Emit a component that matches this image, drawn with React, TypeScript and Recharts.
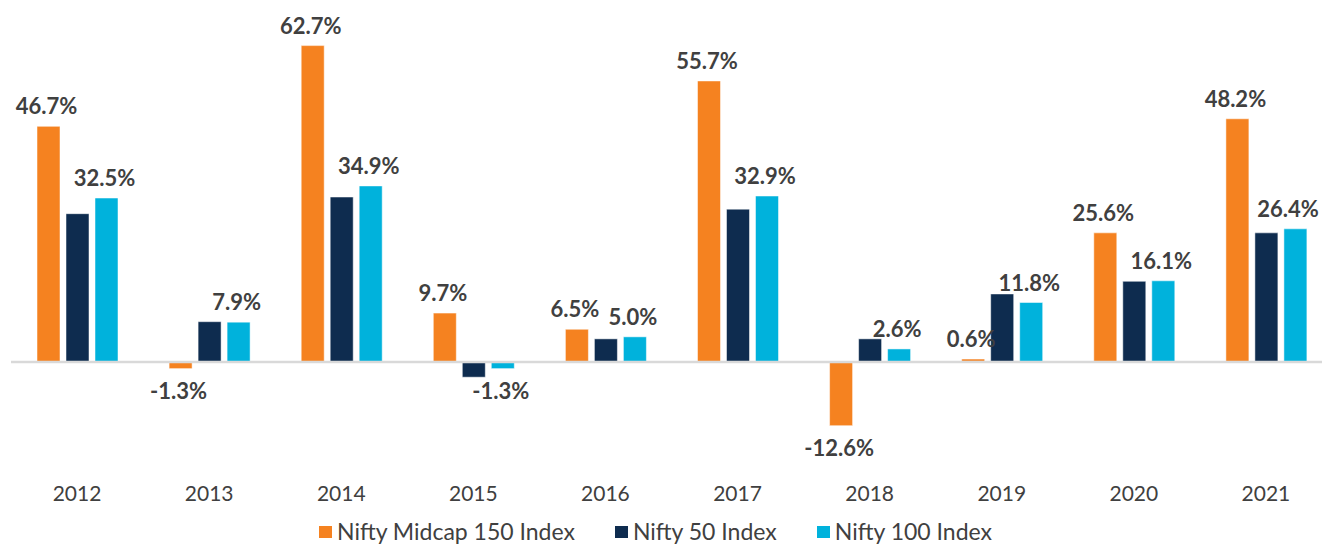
import { Bar, BarChart, LabelList, Legend, ReferenceLine, XAxis, YAxis } from "recharts";

const years = ["2012", "2013", "2014", "2015", "2016", "2017", "2018", "2019", "2020", "2021"];
const midcap150 = [46.7, -1.3, 62.7, 9.7, 6.5, 55.7, -12.6, 0.6, 25.6, 48.2];
const nifty50 = [29.4, 8.0, 32.7, -3.0, 4.6, 30.3, 4.6, 13.5, 16.0, 25.6];
const nifty100 = [32.5, 7.9, 34.9, -1.3, 5.0, 32.9, 2.6, 11.8, 16.1, 26.4];

const seriesNames = ["Nifty Midcap 150 Index", "Nifty 50 Index", "Nifty 100 Index"];
const seriesColors = ["#f58220", "#0e2c4f", "#00b2dc"];

const data = years.map((year, i) => ({
  year,
  midcap: midcap150[i],
  n50: nifty50[i],
  n100: nifty100[i],
}));

const TEXT = "#404040";
const VISIBLE_WIDTH = 1322;

function renderValue(props: any) {
  const vb = props.viewBox ?? props;
  const x = Number(vb.x);
  const y = Number(vb.y);
  const w = Number(vb.width);
  const h = Number(vb.height);
  const value = Number(props.value);
  const top = Math.min(y, y + h);
  const bottom = Math.max(y, y + h);
  const ty = value >= 0 ? top - 12 : bottom + 30;
  // keep the label inside the visible frame
  const cx = Math.min(x + w / 2 - 2, VISIBLE_WIDTH - 34);
  return (
    <text x={cx} y={ty} textAnchor="middle" fill={TEXT} fontFamily="Lato" fontWeight={700} fontSize={22}>
      {value.toFixed(1)}%
    </text>
  );
}

function renderLegend() {
  return (
    <div
      style={{
        height: 30,
        display: "flex",
        alignItems: "flex-end",
        paddingLeft: 308,
        fontFamily: "Lato",
        fontSize: 23,
        color: TEXT,
        whiteSpace: "nowrap",
        transform: "translateY(1px)",
      }}
    >
      {seriesNames.map((name, i) => (
        <div key={name} style={{ display: "flex", alignItems: "center", marginRight: 40, lineHeight: "27px" }}>
          <span style={{ width: 13, height: 12, background: seriesColors[i], marginRight: 5, display: "inline-block" }} />
          <span>{name}</span>
        </div>
      ))}
    </div>
  );
}

export default function App() {
  return (
    <div style={{ width: VISIBLE_WIDTH, height: 544, overflow: "hidden", background: "#fff" }}>
      <style>{"body{margin:0}"}</style>
      <BarChart
        width={1332}
        height={544}
        data={data}
        margin={{ top: 34, right: 0, bottom: 0, left: 11 }}
        barSize={23}
        barGap={6}
      >
        <XAxis
          dataKey="year"
          axisLine={false}
          tickLine={false}
          tickSize={0}
          tickMargin={23}
          height={51}
          tick={{ fontSize: 21, fill: TEXT, fontFamily: "Lato" }}
          interval={0}
        />
        <YAxis hide domain={[-20, 65]} allowDataOverflow />
        <ReferenceLine y={0} stroke="#d9d9d9" strokeWidth={2.5} />
        <Legend verticalAlign="bottom" content={renderLegend} />
        <Bar dataKey="midcap" fill={seriesColors[0]} stroke="#fff" strokeWidth={0.5} isAnimationActive={false}>
          <LabelList dataKey="midcap" content={renderValue} />
        </Bar>
        <Bar dataKey="n50" fill={seriesColors[1]} stroke="#fff" strokeWidth={0.5} isAnimationActive={false} />
        <Bar dataKey="n100" fill={seriesColors[2]} stroke="#fff" strokeWidth={0.5} isAnimationActive={false}>
          <LabelList dataKey="n100" content={renderValue} />
        </Bar>
      </BarChart>
    </div>
  );
}
